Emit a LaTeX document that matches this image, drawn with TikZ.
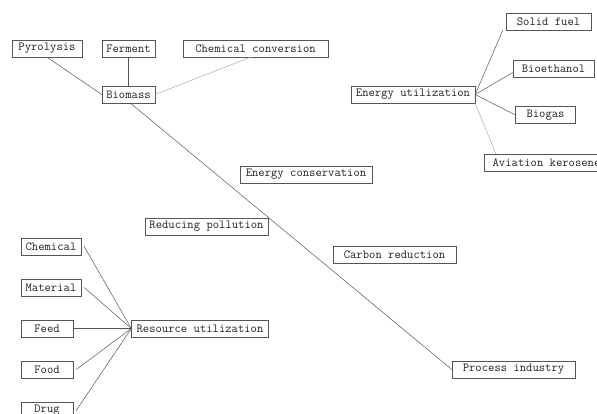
\documentclass[tikz,border=0pt]{standalone}
\usepackage{fontspec}
\usetikzlibrary{calc}
\definecolor{ink}{HTML}{222222}
\definecolor{edge}{HTML}{555555}
\definecolor{faint}{HTML}{AAAAAA}

\begin{document}
\begin{tikzpicture}[
  x=1pt, y=-1pt,
  box/.style={draw=edge, fill=white, inner sep=1pt,
              minimum height=17pt, font=\ttfamily\fontsize{12.3}{13}\selectfont,
              text=ink, anchor=center},
  link/.style={draw=edge, line width=0.5pt},
  fade/.style={draw=faint, line width=0.5pt}
]
  \useasboundingbox (0,0) rectangle (597,414);
  \begin{scope}
  \clip (0,0) rectangle (597,414);

  % Biomass branch
  \node[box, minimum width=70pt]  (pyro) at (47,48.5)    {Pyrolysis};
  \node[box, minimum width=53pt]  (ferm) at (128.5,48.5) {Ferment};
  \node[box, minimum width=145pt] (chem) at (255.5,48.5) {Chemical conversion};
  \node[box, minimum width=53pt]  (bio)  at (128.5,94.5) {Biomass};

  \draw[link] (pyro.south) -- (bio.west);
  \draw[link] (ferm) -- (bio);
  \draw[fade] (bio.east) -- ([xshift=-5pt]chem.south);

  % Energy utilization
  \node[box, minimum width=124pt] (eu)     at (413,94.5)   {Energy utilization};
  \node[box, minimum width=85pt]  (solid)  at (548.5,21.5) {Solid fuel};
  \node[box, minimum width=81pt]  (bioeth) at (553.5,68.5) {Bioethanol};
  \node[box, minimum width=60pt]  (biogas) at (545.5,115)  {Biogas};
  \node[box, minimum width=125pt] (avk)    at (546.5,162.5) {Aviation kerosene};

  \draw[link] (eu.east) -- ([xshift=-3pt]solid.south west);
  \draw[link] (eu.east) -- ([yshift=-4pt]bioeth.west);
  \draw[link] (eu.east) -- (biogas.west);
  \draw[fade] (eu.south east) -- ([xshift=12pt]avk.north west);

  % Main axis
  \node[box, minimum width=132pt] (cons)  at (306,174.5)   {Energy conservation};
  \node[box, minimum width=123pt] (poll)  at (206.5,226.5) {Reducing pollution};
  \node[box, minimum width=123pt] (carb)  at (394.5,254.5) {Carbon reduction};
  \node[box, minimum width=123pt] (proc)  at (513.5,369.5) {Process industry};

  \draw[link] ([xshift=2pt]bio.south) -- (proc.west);

  % Resource utilization
  \node[box, minimum width=137pt] (res)  at (200,328.5) {Resource utilization};
  \node[box, minimum width=60pt]  (chm)  at (51,246.5)  {Chemical};
  \node[box, minimum width=60pt]  (mat)  at (51,287.5)  {Material};
  \node[box, minimum width=52pt]  (feed) at (47,328.5)  {Feed};
  \node[box, minimum width=52pt]  (food) at (47,369.5)  {Food};
  \node[box, minimum width=52pt]  (drug) at (47,410.5)  {Drug};

  \foreach \src in {chm,mat,food,drug}
    \draw[link] ([xshift=3pt]\src.east) -- (res.west);
  \draw[link] (feed.east) -- (res.west);
  \end{scope}
\end{tikzpicture}
\end{document}
